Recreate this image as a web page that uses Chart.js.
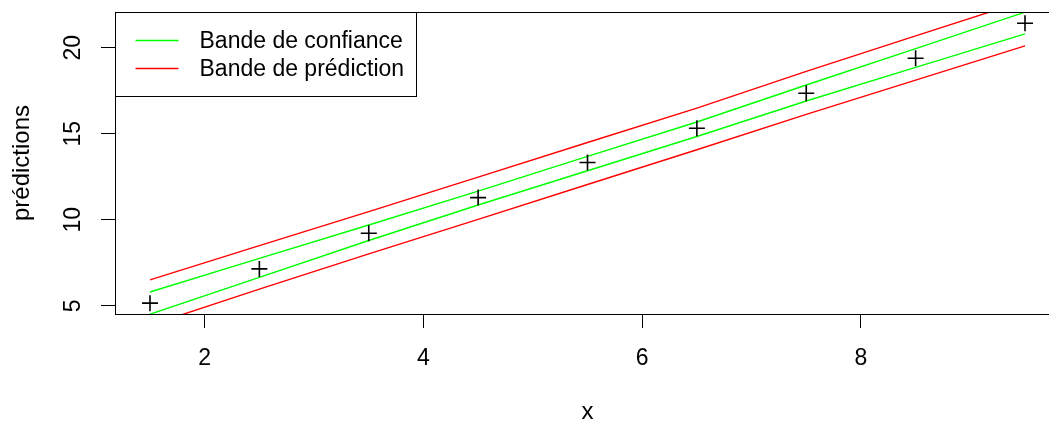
<!DOCTYPE html>
<html>
<head>
<meta charset="utf-8">
<title>Bandes de confiance et de prédiction</title>
<script src="https://cdn.jsdelivr.net/npm/chart.js@4/dist/chart.umd.min.js"></script>
<style>
  html, body { margin: 0; padding: 0; overflow: hidden; background: #fff; }
  #wrap { width: 1080px; height: 421px; position: relative; }
</style>
</head>
<body>
<div id="wrap"><canvas id="bands"></canvas></div>
<script>
// x positions of the observations
const xs = [1.5, 2.5, 3.5, 4.5, 5.5, 6.5, 7.5, 8.5, 9.5];
// observed values (plotted as +)
const observed = [5.16, 7.15, 9.22, 11.29, 13.33, 15.32, 17.35, 19.38, 21.42];
// confidence band (green)
const confUpper = [5.81, 7.76, 9.70, 11.67, 13.68, 15.68, 17.83, 19.94, 22.06];
const confLower = [4.52, 6.66, 8.80, 10.86, 12.85, 14.84, 16.90, 18.85, 20.80];
// prediction band (red)
const predUpper = [6.51, 8.50, 10.48, 12.48, 14.49, 16.49, 18.62, 20.68, 22.73];
const predLower = [3.88, 5.97, 8.02, 10.03, 12.05, 14.07, 16.12, 18.11, 20.10];

const xTicks = [2, 4, 6, 8];
const yTicks = [5, 10, 15, 20];
const legendLabels = ["Bande de confiance", "Bande de prédiction"];
const legendColors = ["#00ff00", "#ff0000"];

const FONT = "'Liberation Sans', Arial, Helvetica, sans-serif";
const FONT_SIZE = 23;
const TITLE_SIZE = 24;

function Pairs(ys) {
    // Zip xs with a list of y values for the scatter/line datasets.
    return xs.map(function (x, i) { return { x: x, y: ys[i] }; });
}

function BandLine(label, ys, color) {
    return {
        label: label,
        data: Pairs(ys),
        showLine: true,
        borderColor: color,
        borderWidth: 1.4,
        pointRadius: 0,
        fill: false
    };
}

// Frame, rotated y tick labels and the boxed legend, drawn the base-graphics way.
const basePlotExtras = {
    id: "basePlotExtras",
    afterDraw: function (chart) {
        const ctx = chart.ctx;
        const area = chart.chartArea;
        const yScale = chart.scales.y;
        ctx.save();
        ctx.strokeStyle = "#000";
        ctx.lineWidth = 1;
        ctx.strokeRect(Math.round(area.left) + 0.5, Math.round(area.top) + 0.5,
                       Math.round(area.right - area.left), Math.round(area.bottom - area.top));

        ctx.fillStyle = "#000";
        ctx.font = FONT_SIZE + "px " + FONT;
        ctx.textAlign = "center";
        ctx.textBaseline = "middle";
        yTicks.forEach(function (v) {
            ctx.save();
            ctx.translate(area.left - 41.5, yScale.getPixelForValue(v));
            ctx.rotate(-Math.PI / 2);
            ctx.fillText(String(v), 0, 0);
            ctx.restore();
        });

        // legend in the top-left corner
        const lx = Math.round(area.left) + 0.5;
        const ly = Math.round(area.top) + 0.5;
        ctx.strokeRect(lx, ly, 301, 84);
        ctx.textAlign = "left";
        legendLabels.forEach(function (label, i) {
            const rowY = ly + 28 + i * 28;
            ctx.strokeStyle = legendColors[i];
            ctx.lineWidth = 1.4;
            ctx.beginPath();
            ctx.moveTo(lx + 20, rowY);
            ctx.lineTo(lx + 63, rowY);
            ctx.stroke();
            ctx.fillText(label, lx + 84, rowY + 1.5);
        });
        ctx.restore();
    }
};

Chart.defaults.font.family = FONT;
Chart.defaults.font.size = FONT_SIZE;
Chart.defaults.color = "#000";

new Chart(document.getElementById("bands"), {
    type: "scatter",
    data: {
        datasets: [
            {
                label: "observations",
                data: Pairs(observed),
                pointStyle: "cross",
                pointRadius: 8,
                pointBorderWidth: 1.6,
                borderColor: "#000",
                backgroundColor: "#000"
            },
            BandLine(legendLabels[0], confUpper, legendColors[0]),
            BandLine(legendLabels[0], confLower, legendColors[0]),
            BandLine(legendLabels[1], predUpper, legendColors[1]),
            BandLine(legendLabels[1], predLower, legendColors[1])
        ]
    },
    options: {
        responsive: true,
        maintainAspectRatio: false,
        animation: false,
        events: [],
        layout: { padding: { top: 12, right: 20, left: 0, bottom: 0 } },
        plugins: {
            legend: { display: false },
            tooltip: { enabled: false }
        },
        scales: {
            x: {
                type: "linear",
                min: 1.18,
                max: 9.82,
                afterFit: function (scale) { scale.height = 107; },
                afterBuildTicks: function (scale) {
                    scale.ticks = xTicks.map(function (v) { return { value: v }; });
                },
                ticks: { padding: 16.5, maxRotation: 0, color: "#000" },
                grid: { drawOnChartArea: false, drawTicks: true, tickLength: 14, color: "#000", lineWidth: 1 },
                border: { display: false },
                title: {
                    display: true, text: "x", color: "#000",
                    font: { size: TITLE_SIZE },
                    padding: { top: 0, bottom: -5.9 }
                }
            },
            y: {
                type: "linear",
                min: 4.53,
                max: 22.07,
                afterFit: function (scale) { scale.width = 115; },
                afterBuildTicks: function (scale) {
                    scale.ticks = yTicks.map(function (v) { return { value: v }; });
                },
                ticks: { display: false },
                grid: { drawOnChartArea: false, drawTicks: true, tickLength: 14, color: "#000", lineWidth: 1 },
                border: { display: false },
                title: {
                    display: true, text: "prédictions", color: "#000",
                    font: { size: TITLE_SIZE },
                    padding: { top: 7.6, bottom: 0 }
                }
            }
        }
    },
    plugins: [basePlotExtras]
});
</script>
</body>
</html>
